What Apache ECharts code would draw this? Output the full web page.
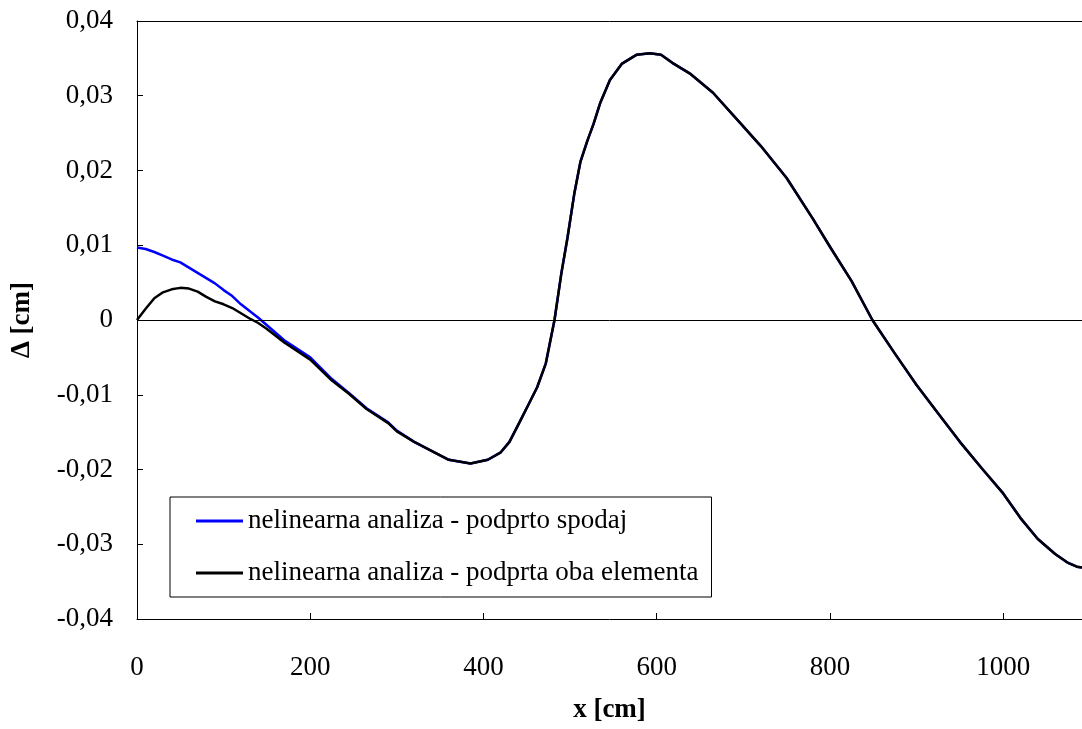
<!DOCTYPE html>
<html>
<head>
<meta charset="utf-8">
<script src="https://cdn.jsdelivr.net/npm/echarts@6/dist/echarts.min.js"></script>
<style>
  html, body { margin: 0; padding: 0; background: #fff; }
  #chart { width: 1082px; height: 729px; }
</style>
</head>
<body>
<div id="chart"></div>
<script>
// x positions [cm]
var xs = [0, 10, 20, 30, 40, 50, 60, 70, 80, 90, 100, 110, 120, 130, 140, 150, 170, 200,
  225, 245, 265, 290, 300, 320, 340, 360, 385, 405, 420, 430, 442, 452, 462, 472, 482,
  490, 497, 505, 512, 520, 527, 535, 546, 560, 577, 592, 605, 618, 638, 665, 696, 720,
  750, 780, 800, 825, 849, 875, 900, 925, 950, 975, 1000, 1020, 1040, 1060, 1075, 1085, 1091];

// nelinearna analiza - podprto spodaj
var spodaj = [0.0097, 0.0095, 0.0091, 0.0086, 0.0081, 0.0077, 0.0070, 0.0063, 0.0056, 0.0049,
  0.0040, 0.0032, 0.0021, 0.0012, 0.0003, -0.0007, -0.0027, -0.0050,
  -0.0079, -0.0098, -0.0118, -0.0137, -0.0148, -0.0163, -0.0175, -0.0187, -0.0192, -0.0187,
  -0.0177, -0.0163, -0.0136, -0.0113, -0.0090, -0.0058, 0.0000,
  0.0063, 0.0110, 0.0170, 0.0212, 0.0240, 0.0262, 0.0291, 0.0321, 0.0343, 0.0355, 0.0357,
  0.0355, 0.0344, 0.0330, 0.0304, 0.0264, 0.0233, 0.0190, 0.0136, 0.0098, 0.0052, 0.0000,
  -0.0045, -0.0087, -0.0125, -0.0163, -0.0198, -0.0232, -0.0265, -0.0293, -0.0313, -0.0325,
  -0.0330, -0.0331];

// nelinearna analiza - podprta oba elementa
var obaElementa = [0.0000, 0.0015, 0.0029, 0.0037, 0.0041, 0.0043, 0.0042, 0.0038, 0.0031, 0.0025,
  0.0021, 0.0016, 0.0009, 0.0002, -0.0004, -0.0012, -0.0030, -0.0053,
  -0.0081, -0.0099, -0.0119, -0.0138, -0.0149, -0.0163, -0.0175, -0.0187, -0.0192, -0.0187,
  -0.0177, -0.0163, -0.0136, -0.0113, -0.0090, -0.0058, 0.0000,
  0.0063, 0.0110, 0.0170, 0.0212, 0.0240, 0.0262, 0.0291, 0.0321, 0.0343, 0.0355, 0.0357,
  0.0355, 0.0344, 0.0330, 0.0304, 0.0264, 0.0233, 0.0190, 0.0136, 0.0098, 0.0052, 0.0000,
  -0.0045, -0.0087, -0.0125, -0.0163, -0.0198, -0.0232, -0.0265, -0.0293, -0.0313, -0.0325,
  -0.0330, -0.0331];

var seriesNames = ['nelinearna analiza - podprto spodaj', 'nelinearna analiza - podprta oba elementa'];

function pairs(ys) {
  return xs.map(function (x, i) { return [x, ys[i]]; });
}

var font = '"Liberation Serif", "Times New Roman", serif';
var chart = echarts.init(document.getElementById('chart'));

var option = {
  animation: false,
  backgroundColor: '#fff',
  grid: { left: 137, top: 21, right: 0, bottom: 108 },
  legend: {
    orient: 'vertical',
    left: 170,
    top: 497,
    data: seriesNames,
    icon: 'rect',
    itemWidth: 47,
    itemHeight: 3,
    itemGap: 22,
    padding: [9, 13, 9, 26],
    borderColor: '#000',
    borderWidth: 1,
    textStyle: { fontFamily: font, fontSize: 27, color: '#000', lineHeight: 30 }
  },
  xAxis: [{
    type: 'value',
    min: 0,
    max: 1091,
    interval: 200,
    name: 'x [cm]',
    nameLocation: 'middle',
    nameGap: 78,
    nameMoveOverlap: false,
    nameTextStyle: { fontFamily: font, fontSize: 27, fontWeight: 'bold', color: '#000' },
    axisLine: { onZero: false, lineStyle: { color: '#000', width: 1 } },
    axisTick: { inside: true, length: 6, lineStyle: { color: '#000' } },
    axisLabel: {
      fontFamily: font, fontSize: 27, color: '#000', margin: 35, showMaxLabel: false,
      formatter: function (v) { return String(v); }
    },
    splitLine: { show: false }
  }, {
    type: 'value',
    position: 'top',
    min: 0,
    max: 1091,
    axisLine: { show: true, onZero: false, lineStyle: { color: '#000', width: 1 } },
    axisTick: { show: false },
    axisLabel: { show: false },
    splitLine: { show: false }
  }],
  yAxis: {
    type: 'value',
    min: -0.04,
    max: 0.04,
    interval: 0.01,
    name: 'Δ [cm]',
    nameLocation: 'middle',
    nameGap: 101,
    nameMoveOverlap: false,
    nameRotate: 90,
    nameTextStyle: { fontFamily: font, fontSize: 27, fontWeight: 'bold', color: '#000' },
    axisLine: { show: true, onZero: false, lineStyle: { color: '#000', width: 1 } },
    axisTick: { show: true, inside: true, length: 6, lineStyle: { color: '#000' } },
    axisLabel: {
      fontFamily: font, fontSize: 27, color: '#000', margin: 24,
      formatter: function (v) {
        var r = Math.round(v * 100) / 100;
        if (r === 0) return '0';
        return r.toFixed(2).replace('.', ',');
      }
    },
    splitLine: { show: false }
  },
  series: [{
    name: seriesNames[0],
    type: 'line',
    data: pairs(spodaj),
    showSymbol: false,
    symbol: 'none',
    color: '#0000ff',
    lineStyle: { color: '#0000ff', width: 2.5 },
    markLine: {
      silent: true,
      symbol: 'none',
      label: { show: false },
      lineStyle: { color: '#000', width: 1, type: 'solid' },
      data: [{ yAxis: 0 }]
    }
  }, {
    name: seriesNames[1],
    type: 'line',
    data: pairs(obaElementa),
    showSymbol: false,
    symbol: 'none',
    color: '#000000',
    lineStyle: { color: '#000', width: 2.5 }
  }]
};

chart.setOption(option);
</script>
</body>
</html>
